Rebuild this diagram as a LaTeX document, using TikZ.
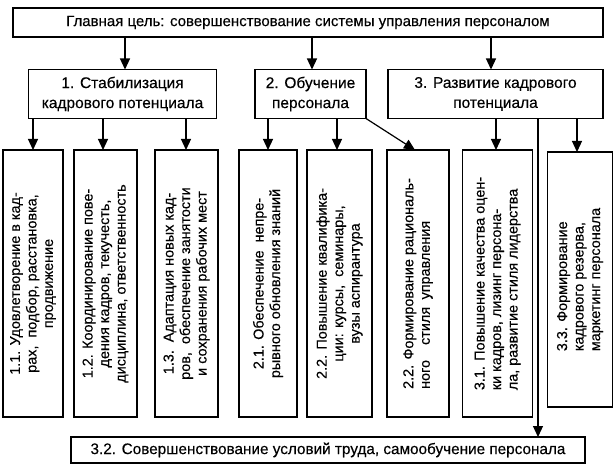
\documentclass[tikz,border=0pt]{standalone}
\usepackage{fontspec}
\setmainfont[FakeBold=0.3]{Liberation Sans}
\usetikzlibrary{arrows.meta}
\begin{document}
\begin{tikzpicture}[x=1pt,y=-1pt,
  every node/.style={inner sep=0pt, outer sep=0pt},
  hbox/.style={draw, line width=1.2pt, align=center},
  lvl/.style={hbox, font=\fontsize{15.5}{20}\selectfont},
  vbox/.style={draw, line width=1.2pt, align=center, rotate=90, font=\fontsize{14.4}{16.5}\selectfont},
  arr/.style={line width=1.2pt, -{Triangle[width=10pt,length=11pt]}}]
\useasboundingbox (0,0) rectangle (616,470);
\node[hbox, font=\fontsize{15}{18}\selectfont, minimum width=590pt, minimum height=29pt] (top) at (308,22.5) {Главная цель: совершенствование системы управления персоналом};
\node[lvl, minimum width=188pt, minimum height=49pt] (b1) at (122.5,94) {1. Стабилизация\\кадрового потенциала};
\node[lvl, minimum width=111pt, minimum height=49pt] (b2) at (310.5,94) {2. Обучение\\персонала};
\node[lvl, minimum width=215pt, minimum height=49pt] (b3) at (495.5,94) {3. Развитие кадрового\\потенциала};
\node[vbox, minimum width=267pt, minimum height=60pt] (v11) at (33,283.5) {1.1. Удовлетворение в кад-\\рах,\ \ подбор, расстановка,\\продвижение};
\node[vbox, minimum width=267pt, minimum height=63pt] (v12) at (105.5,283.5) {1.2. Координирование пове-\\дения кадров, текучесть,\\дисциплина, ответственность};
\node[vbox, minimum width=267pt, minimum height=63pt] (v13) at (186.5,283.5) {1.3.\ \ Адаптация новых кад-\\ров,\ \ обеспечение занятости\\и сохранения рабочих мест};
\node[vbox, minimum width=267pt, minimum height=58pt] (v21) at (268,283.5) {2.1. Обеспечение\ \ непре-\\рывного обновления знаний};
\node[vbox, minimum width=267pt, minimum height=65pt] (v22) at (339.5,283.5) {2.2. Повышение квалифика-\\ции: курсы,\ \ семинары,\\вузы аспирантура};
\node[vbox, align=left, minimum width=267pt, minimum height=62pt] (v22b) at (418,283.5) {2.2. Формирование рациональ-\\\makebox[168pt][s]{ного\ \ стиля управления}};
\node[vbox, align=left, minimum width=267pt, minimum height=70pt] (v31) at (497.5,283.5) {3.1. Повышение качества оцен-\\ки кадров, лизинг персона-\\ла, развитие стиля лидерства};
\node[vbox, align=left, minimum width=255pt, minimum height=65pt] (v33) at (580,279.5) {3.3. Формирование\\кадрового резерва,\\маркетинг персонала};
\node[hbox, font=\fontsize{15.3}{18}\selectfont, minimum width=514pt, minimum height=26pt] (bot) at (328,450) {3.2. Совершенствование условий труда, самообучение персонала};
\draw[arr] (top.south -| 125,0) -- (b1.north -| 125,0);
\draw[arr] (top.south -| 312,0) -- (b2.north -| 312,0);
\draw[arr] (top.south -| 491,0) -- (b3.north -| 491,0);
\draw[arr] (b1.south -| 33,0) -- (v11.east -| 33,0);
\draw[arr] (b1.south -| 103,0) -- (v12.east -| 103,0);
\draw[arr] (b1.south -| 186,0) -- (v13.east -| 186,0);
\draw[arr] (b2.south -| 268,0) -- (v21.east -| 268,0);
\draw[arr] (b2.south -| 337,0) -- (v22.east -| 337,0);
\draw[arr] (b2.south east) -- (v22b.east -| 415,0);
\draw[arr] (b3.south -| 496,0) -- (v31.east -| 496,0);
\draw[arr] (b3.south -| 538,0) -- (bot.north -| 538,0);
\draw[arr] (b3.south -| 577,0) -- (v33.east -| 577,0);
\end{tikzpicture}
\end{document}
